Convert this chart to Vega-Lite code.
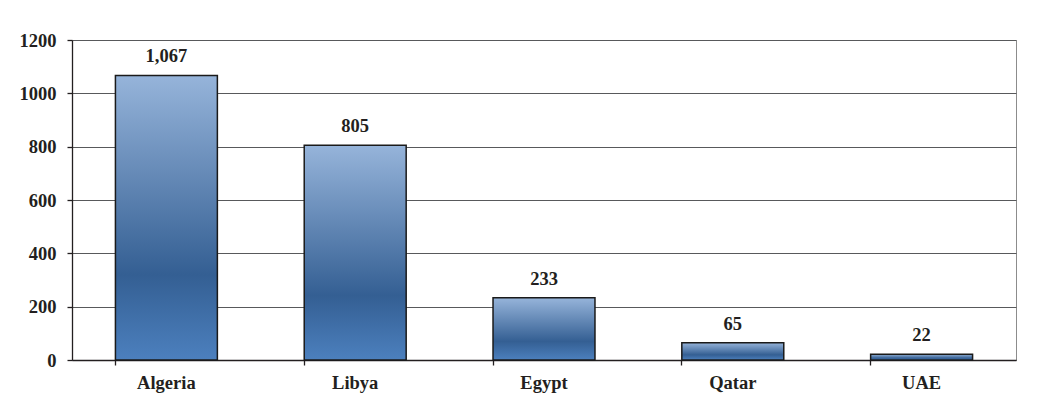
{
  "$schema": "https://vega.github.io/schema/vega-lite/v6.json",
  "width": 944,
  "height": 320,
  "autosize": {"type": "none"},
  "padding": {"left": 72, "top": 40, "right": 28, "bottom": 43},
  "background": "white",
  "config": {
    "view": {"stroke": "#8c8c8c", "strokeWidth": 1},
    "font": "Liberation Serif"
  },
  "data": {
    "values": [
      {"country": "Algeria", "value": 1067},
      {"country": "Libya", "value": 805},
      {"country": "Egypt", "value": 233},
      {"country": "Qatar", "value": 65},
      {"country": "UAE", "value": 22}
    ]
  },
  "encoding": {
    "x": {
      "field": "country",
      "type": "nominal",
      "sort": null,
      "scale": {"paddingInner": 0.46, "paddingOuter": 0.23},
      "axis": {
        "title": null,
        "labelAngle": 0,
        "labelFont": "Liberation Serif",
        "labelFontWeight": "bold",
        "labelFontSize": 18.5,
        "labelColor": "#231f20",
        "labelPadding": 8,
        "bandPosition": 0,
        "tickSize": 5,
        "tickColor": "#231f20",
        "tickWidth": 1.3,
        "domainColor": "#231f20",
        "domainWidth": 1.3,
        "grid": false
      }
    },
    "y": {
      "field": "value",
      "type": "quantitative",
      "scale": {"domain": [0, 1200], "nice": false},
      "axis": {
        "title": null,
        "values": [0, 200, 400, 600, 800, 1000, 1200],
        "format": "d",
        "labelFont": "Liberation Serif",
        "labelFontWeight": "bold",
        "labelFontSize": 18.5,
        "labelColor": "#231f20",
        "labelPadding": 11,
        "tickSize": 5,
        "tickColor": "#231f20",
        "tickWidth": 1.3,
        "domainColor": "#231f20",
        "domainWidth": 1.3,
        "grid": true,
        "gridColor": "#58595b",
        "gridWidth": 1.2
      }
    }
  },
  "layer": [
    {
      "mark": {
        "type": "bar",
        "stroke": "#1a1a1a",
        "strokeWidth": 1.5,
        "fill": {
          "gradient": "linear",
          "x1": 0, "y1": 0, "x2": 0, "y2": 1,
          "stops": [
            {"offset": 0, "color": "#96b4da"},
            {"offset": 0.7, "color": "#345f93"},
            {"offset": 1, "color": "#4c80be"}
          ]
        }
      }
    },
    {
      "mark": {
        "type": "text",
        "baseline": "bottom",
        "dy": -9,
        "font": "Liberation Serif",
        "fontWeight": "bold",
        "fontSize": 18.5,
        "color": "#231f20"
      },
      "encoding": {
        "text": {"field": "value", "type": "quantitative", "format": ","}
      }
    }
  ]
}
